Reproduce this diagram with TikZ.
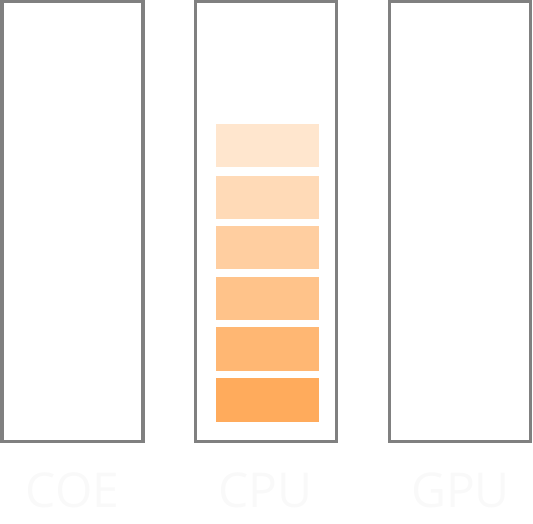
\documentclass[tikz,border=0pt]{standalone}
\usepackage{fontspec}
\setmainfont{Open Sans}
\usetikzlibrary{positioning}
\definecolor{boxgray}{HTML}{808080}
\definecolor{barorange}{HTML}{FFAB5C}
\definecolor{labelgray}{HTML}{F9F9F9}
\tikzset{unit/.style={draw=boxgray, line width=2.6pt, inner sep=0pt,
                      minimum width=105.75pt, minimum height=330pt},
         bar/.style={inner sep=0pt, minimum width=77.25pt, minimum height=32.5pt},
         unitlabel/.style={text=labelgray, font=\fontsize{36}{36}\selectfont, anchor=base}}

\begin{document}
\begin{tikzpicture}[x=0.75pt,y=-0.75pt]
\useasboundingbox (0,0) rectangle (533,524);
\node[unit] (coe) at (72.5,221.6) {};
\node[unit] (cpu) at (265.8,221.6) {};
\node[unit] (gpu) at (459.8,221.6) {};
\node[bar, fill=barorange!30!white] (b1) at (267.5,145.5) {};
\node[bar, fill=barorange!44!white] (b2) at (267.5,197.5) {};
\node[bar, fill=barorange!58!white] (b3) at (267.5,247.5) {};
\node[bar, fill=barorange!72!white] (b4) at (267.5,298.5) {};
\node[bar, fill=barorange!86!white] (b5) at (267.5,349) {};
\node[bar, fill=barorange] (b6) at (267.5,400) {};
\node[unitlabel] (coelabel) at (72.5,508) {COE};
\node[unitlabel] (cpulabel) at (265.5,508) {CPU};
\node[unitlabel] (gpulabel) at (460.5,508) {GPU};
\end{tikzpicture}
\end{document}
